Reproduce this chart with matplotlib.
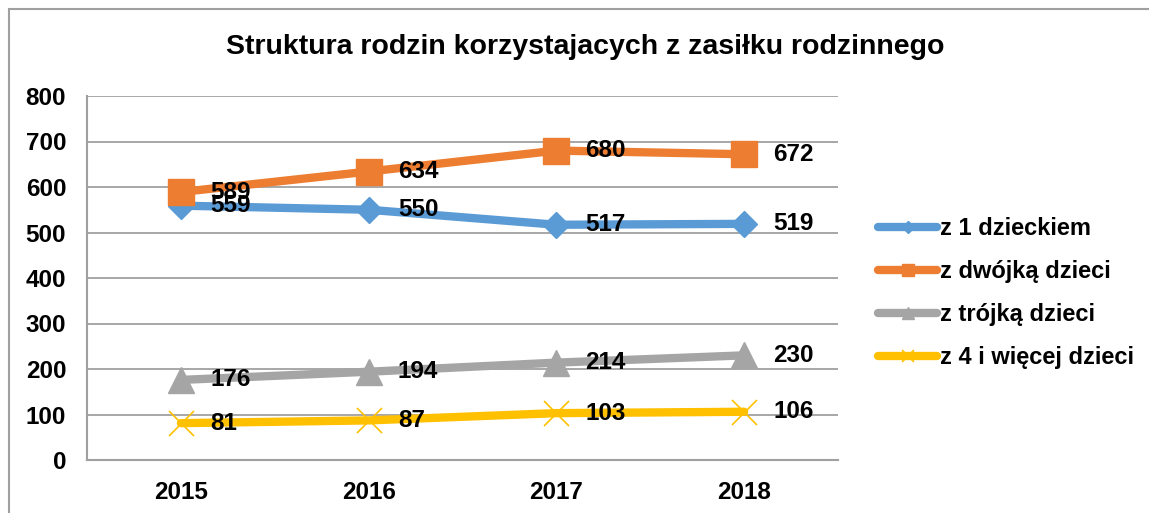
import matplotlib.pyplot as plt
from matplotlib.patches import Rectangle

years = ['2015', '2016', '2017', '2018']
one_child = [559, 550, 517, 519]
two_children = [589, 634, 680, 672]
three_children = [176, 194, 214, 230]
four_plus = [81, 87, 103, 106]

series_names = ['z 1 dzieckiem', 'z dwójką dzieci', 'z trójką dzieci', 'z 4 i więcej dzieci']
colors = ['#5B9BD5', '#ED7D31', '#A5A5A5', '#FFC000']
markers = ['D', 's', '^', 'x']
msizes = [13, 19, 19, 18]

plt.rcParams['font.family'] = ['Liberation Sans', 'DejaVu Sans']

fig = plt.figure(figsize=(11.49, 5.13), dpi=100)
# outer chart frame
fig.patches.append(Rectangle((9 / 1149, -0.05), 1.1, 1 - 9 / 513 + 0.05, transform=fig.transFigure,
                             fill=False, edgecolor='#a0a0a0', linewidth=1.5))

ax = fig.add_axes([87 / 1149, 1 - 460 / 513, (838 - 87) / 1149, (460 - 96) / 513])

x = range(len(years))
data = [one_child, two_children, three_children, four_plus]
for vals, name, c, m, ms in zip(data, series_names, colors, markers, msizes):
    if m == 'x':
        ax.plot(x, vals, color=c, linewidth=6, solid_capstyle='round', marker=m,
                markersize=ms, markeredgewidth=1.2, label=name, zorder=3)
    else:
        ax.plot(x, vals, color=c, linewidth=6, solid_capstyle='round', marker=m,
                markersize=ms, markeredgecolor=c, label=name, zorder=3)
    for i, v in enumerate(vals):
        ax.annotate(str(v), (i, v), xytext=(21, 0), textcoords='offset points',
                    fontsize=17.5, fontweight='bold', va='center', ha='left', zorder=5)

ax.set_xlim(-0.5, 3.5)
ax.set_ylim(0, 800)
ax.set_yticks(range(0, 801, 100))
ax.set_xticks(list(x))
ax.set_xticklabels(years)
ax.tick_params(length=0, labelsize=17.5)
ax.tick_params(axis='x', pad=15)
ax.tick_params(axis='y', pad=15)
for lab in ax.get_xticklabels() + ax.get_yticklabels():
    lab.set_fontweight('bold')
ax.grid(axis='y', color='#a0a0a0', linewidth=1.3)
ax.set_axisbelow(True)
for s in ['top', 'right']:
    ax.spines[s].set_visible(False)
for s in ['left', 'bottom']:
    ax.spines[s].set_color('#a0a0a0')
    ax.spines[s].set_linewidth(1.5)

fig.text(585 / 1149, 1 - 47 / 513, 'Struktura rodzin korzystajacych z zasiłku rodzinnego',
         ha='center', va='center', fontsize=20.5, fontweight='bold')

leg = fig.legend(loc='center left', bbox_to_anchor=(857 / 1149, 1 - 293 / 513), frameon=False,
                 prop={'size': 17, 'weight': 'bold'}, handlelength=2.5, handletextpad=0.1,
                 labelspacing=0.85, markerscale=0.45)

fig.savefig('out.png', dpi=100)
